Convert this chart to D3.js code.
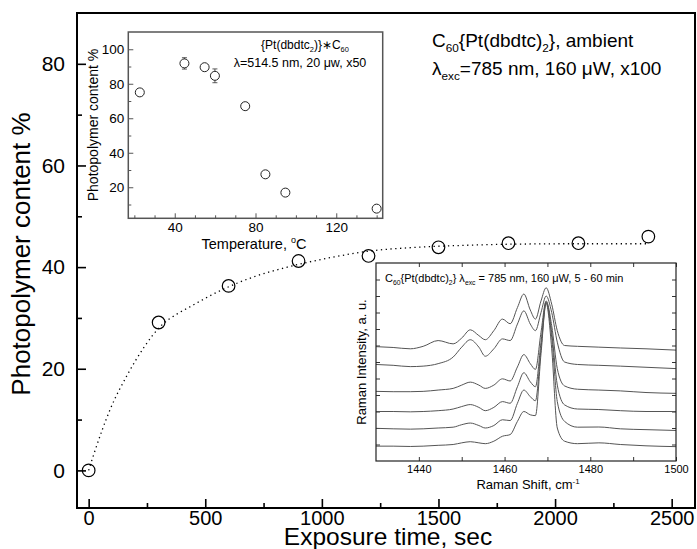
<!DOCTYPE html>
<html><head><meta charset="utf-8">
<script src="https://cdn.jsdelivr.net/npm/d3@7"></script>
<style>
body{margin:0;background:#fff}
svg{display:block}
text{font-family:Arial,"Liberation Sans",Helvetica,sans-serif;fill:#000}
</style></head>
<body><svg id="chart" width="697" height="549"></svg>
<script>
// ---------- main chart data ----------
const exposureTime = [0, 300, 600, 900, 1200, 1500, 1800, 2100, 2400];
const photopolymerContent = [0, 29.1, 36.3, 41.2, 42.2, 43.9, 44.7, 44.7, 46.0];
// dotted fit curve
const fitTime  = [0, 23, 94, 166, 237, 309, 380, 423, 552, 709, 852, 1052, 1195, 1409, 1624, 1800, 2100, 2400];
const fitValue = [0, 3.3, 12.2, 18.8, 24.2, 28.4, 30.8, 31.9, 35.1, 38.1, 40.0, 42.0, 43.1, 43.9, 44.3, 44.5, 44.6, 44.6];
const mainXTicks = [0, 500, 1000, 1500, 2000, 2500];
const mainXMinor = [250, 750, 1250, 1750, 2250];
const mainYTicks = [0, 20, 40, 60, 80];
const mainYMinor = [10, 30, 50, 70];

// ---------- inset 1 (temperature) ----------
const insetTemperature = [22.7, 44.8, 54.8, 59.9, 74.9, 84.9, 94.8, 140];
const insetContent     = [75, 91.8, 89.6, 84.6, 67, 27.5, 16.9, 7.6];
const insetError       = [0, 3.3, 0, 4.0, 0, 0, 0, 0];
const insetXTicks = [40, 80, 120];
const insetXMinor = [20, 30, 50, 60, 70, 90, 100, 110, 130, 140];
const insetYTicks = [20, 40, 60, 80, 100];
const insetYMinor = [10, 30, 50, 70, 90];

// ---------- inset 2 (Raman spectra) ----------
const ramanShift = [1430, 1434, 1438, 1441, 1444.5, 1448, 1450, 1452, 1454, 1455.5, 1457.5, 1459.5, 1461.3, 1463, 1464.5, 1466, 1467.2, 1468.5, 1469.7, 1471, 1472.3, 1474, 1477, 1482, 1487, 1493, 1500];
const ramanTrace1 = [6.93, 6.88, 6.8, 6.95, 7.3, 7.1, 7.45, 7.95, 7.6, 7.35, 7.9, 8.6, 8.32, 9.3, 10.12, 9.15, 8.6, 9.7, 10.5, 9.5, 7.9, 7.0, 6.95, 6.9, 6.85, 6.8, 6.72];
const ramanTrace2 = [5.85, 5.8, 5.72, 5.75, 5.9, 6.3, 6.9, 7.35, 6.9, 6.35, 6.8, 7.4, 7.3, 8.3, 9.1, 8.3, 7.9, 9.0, 10.0, 9.0, 7.2, 6.0, 5.85, 5.8, 5.75, 5.68, 5.6];
const ramanTrace3 = [4.22, 4.2, 4.2, 4.22, 4.3, 4.4, 4.6, 4.78, 4.6, 4.4, 4.6, 4.98, 4.85, 5.7, 6.45, 5.9, 5.55, 7.8, 9.7, 8.2, 5.6, 4.55, 4.35, 4.3, 4.25, 4.15, 4.1];
const ramanTrace4 = [3.0, 3.0, 2.98, 3.0, 3.05, 3.15, 3.3, 3.42, 3.25, 3.05, 3.25, 3.6, 3.5, 4.5, 5.35, 4.8, 4.5, 7.2, 9.65, 7.8, 4.6, 3.4, 3.15, 3.12, 3.05, 3.0, 3.0];
const ramanTrace5 = [1.98, 1.95, 1.93, 1.95, 2.0, 2.05, 2.2, 2.3, 2.15, 2.0, 2.15, 2.5, 2.45, 3.5, 4.3, 3.9, 3.65, 6.8, 9.6, 7.5, 3.6, 2.4, 2.05, 2.06, 1.95, 1.9, 1.85];
const ramanTrace6 = [0.9, 0.9, 0.88, 0.9, 0.95, 1.0, 1.1, 1.17, 1.1, 1.05, 1.2, 1.5, 1.6, 2.4, 3.0, 2.8, 2.75, 6.5, 9.55, 6.8, 2.0, 1.2, 1.05, 1.1, 1.0, 0.92, 0.87];
const ramanTraces = [ramanTrace1, ramanTrace2, ramanTrace3, ramanTrace4, ramanTrace5, ramanTrace6];
const ramanXTicks = [1440, 1460, 1480, 1500];
const ramanXMinor = [1450, 1470, 1490];
const ramanYTicks = [1, 2, 3, 4, 5, 6, 7, 8, 9, 10, 11];

const svg = d3.select('#chart');

function rich(g, x, y, size, parts, anchor) {
  const t = g.append('text').attr('x', x).attr('y', y).attr('font-size', size)
    .attr('text-anchor', anchor || 'start');
  let shift = 0;
  parts.forEach(([s, k]) => {
    const target = k === 'sub' ? size * 0.28 : k === 'sup' ? -size * 0.42 : 0;
    const ts = t.append('tspan').text(s).attr('dy', target - shift);
    if (k) ts.attr('font-size', size * 0.62);
    shift = target;
  });
  return t;
}

// ================= MAIN CHART =================
const M = {l: 77, r: 695, t: 13, b: 508};
const x = d3.scaleLinear().domain([-50, 2600]).range([M.l, M.r]);
const y = d3.scaleLinear().domain([-7.4, 90]).range([M.b, M.t]);

const gx = svg.append('g').attr('transform', `translate(0,${M.b})`)
  .call(d3.axisBottom(x).tickValues(mainXTicks).tickSize(-9).tickPadding(3).tickFormat(d3.format('d')));
svg.append('g').attr('transform', `translate(0,${M.b})`)
  .call(d3.axisBottom(x).tickValues(mainXMinor).tickSize(-5).tickFormat(''));
const gy = svg.append('g').attr('transform', `translate(${M.l},0)`)
  .call(d3.axisLeft(y).tickValues(mainYTicks).tickSize(-9).tickPadding(12));
svg.append('g').attr('transform', `translate(${M.l},0)`)
  .call(d3.axisLeft(y).tickValues(mainYMinor).tickSize(-5).tickFormat(''));
svg.selectAll('.domain').remove();
svg.selectAll('.tick line').attr('stroke', '#000').attr('stroke-width', 1.6);
gx.selectAll('text').attr('font-size', 20).attr('font-family', 'Arial, "Liberation Sans", sans-serif');
gy.selectAll('text').attr('font-size', 21).attr('font-family', 'Arial, "Liberation Sans", sans-serif');

svg.append('rect').attr('x', M.l).attr('y', M.t).attr('width', M.r - M.l).attr('height', M.b - M.t)
  .attr('fill', 'none').attr('stroke', '#000').attr('stroke-width', 2);

// fit curve
const fitLine = d3.line().x((d, i) => x(fitTime[i])).y((d, i) => y(fitValue[i])).curve(d3.curveMonotoneX);
svg.append('path').datum(fitValue).attr('d', fitLine).attr('fill', 'none')
  .attr('stroke', '#000').attr('stroke-width', 1.3).attr('stroke-dasharray', '1.3 3.5');

// points
svg.append('g').selectAll('circle').data(exposureTime).join('circle')
  .attr('cx', d => x(d)).attr('cy', (d, i) => y(photopolymerContent[i])).attr('r', 6.3)
  .attr('fill', 'none').attr('stroke', '#000').attr('stroke-width', 1.2);

// axis titles
svg.append('text').attr('transform', 'translate(30,254) rotate(-90)').attr('text-anchor', 'middle')
  .attr('font-size', 26).text('Photopolymer content %');
svg.append('text').attr('x', 388).attr('y', 545).attr('text-anchor', 'middle')
  .attr('font-size', 24.5).text('Exposure time, sec');

// top-right annotation
rich(svg, 432, 47, 19, [['C'], ['60', 'sub'], ['{Pt(dbdtc)'], ['2', 'sub'], ['}, ambient']]);
rich(svg, 432, 75, 19, [['λ'], ['exc', 'sub'], ['=785 nm, 160 μW, x100']]);

// ================= INSET 1 =================
const I = {l: 128.3, r: 382.7, t: 32, b: 218.3};
const ix = d3.scaleLinear().domain([17, 143]).range([I.l, I.r]);
const iy = d3.scaleLinear().domain([2, 110]).range([I.b, I.t]);
const g1 = svg.append('g');
g1.append('rect').attr('x', I.l).attr('y', I.t).attr('width', I.r - I.l).attr('height', I.b - I.t)
  .attr('fill', '#fff');
const i1x = g1.append('g').attr('transform', `translate(0,${I.b})`)
  .call(d3.axisBottom(ix).tickValues(insetXTicks).tickSize(-5).tickPadding(4));
g1.append('g').attr('transform', `translate(0,${I.b})`)
  .call(d3.axisBottom(ix).tickValues(insetXMinor).tickSize(-3).tickFormat(''));
const i1y = g1.append('g').attr('transform', `translate(${I.l},0)`)
  .call(d3.axisLeft(iy).tickValues(insetYTicks).tickSize(-5).tickPadding(4));
g1.append('g').attr('transform', `translate(${I.l},0)`)
  .call(d3.axisLeft(iy).tickValues(insetYMinor).tickSize(-3).tickFormat(''));
g1.selectAll('.domain').remove();
g1.selectAll('.tick line').attr('stroke', '#555').attr('stroke-width', 1);
g1.selectAll('.tick text').attr('font-size', 13.5).attr('font-family', 'Arial, "Liberation Sans", sans-serif');
g1.append('rect').attr('x', I.l).attr('y', I.t).attr('width', I.r - I.l).attr('height', I.b - I.t)
  .attr('fill', 'none').attr('stroke', '#555').attr('stroke-width', 1.5);

// error bars
const eb = g1.append('g').selectAll('g').data(insetTemperature.map((t, i) => i).filter(i => insetError[i] > 0)).join('g');
eb.append('line').attr('x1', i => ix(insetTemperature[i])).attr('x2', i => ix(insetTemperature[i]))
  .attr('y1', i => iy(insetContent[i] - insetError[i])).attr('y2', i => iy(insetContent[i] + insetError[i]))
  .attr('stroke', '#333').attr('stroke-width', 0.8);
[-1, 1].forEach(s => eb.append('line')
  .attr('x1', i => ix(insetTemperature[i]) - 2.5).attr('x2', i => ix(insetTemperature[i]) + 2.5)
  .attr('y1', i => iy(insetContent[i] + s * insetError[i])).attr('y2', i => iy(insetContent[i] + s * insetError[i]))
  .attr('stroke', '#333').attr('stroke-width', 0.8));
g1.append('g').selectAll('circle').data(insetTemperature).join('circle')
  .attr('cx', d => ix(d)).attr('cy', (d, i) => iy(insetContent[i])).attr('r', 4.5)
  .attr('fill', '#fff').attr('stroke', '#222').attr('stroke-width', 1);

g1.append('text').attr('transform', 'translate(98,125) rotate(-90)').attr('text-anchor', 'middle')
  .attr('font-size', 14).text('Photopolymer content %');
rich(g1, 254, 249, 14.5, [['Temperature, '], ['o', 'sup'], ['C']], 'middle');
rich(g1, 305, 49, 12, [['{Pt(dbdtc'], ['2', 'sub'], [')}∗C'], ['60', 'sub']], 'middle');
rich(g1, 300, 67, 12.5, [['λ=514.5 nm, 20 μw, x50']], 'middle');

// ================= INSET 2 =================
const R = {l: 376, r: 676, t: 263, b: 461};
const rx = d3.scaleLinear().domain([1430, 1500]).range([R.l, R.r]);
const ry = d3.scaleLinear().domain([0, 12]).range([R.b, R.t]);
const g2 = svg.append('g');
g2.append('rect').attr('x', R.l).attr('y', R.t).attr('width', R.r - R.l).attr('height', R.b - R.t)
  .attr('fill', '#fff');
const r2x = g2.append('g').attr('transform', `translate(0,${R.b})`)
  .call(d3.axisBottom(rx).tickValues(ramanXTicks).tickSize(-4).tickPadding(4).tickFormat(d3.format('d')));
g2.append('g').attr('transform', `translate(0,${R.b})`)
  .call(d3.axisBottom(rx).tickValues(ramanXMinor).tickSize(-4).tickFormat(''));
g2.append('g').attr('transform', `translate(0,${R.t})`)
  .call(d3.axisTop(rx).tickValues(ramanXTicks.concat(ramanXMinor)).tickSize(-4).tickFormat(''));
g2.append('g').attr('transform', `translate(${R.l},0)`)
  .call(d3.axisLeft(ry).tickValues(ramanYTicks).tickSize(-4).tickFormat(''));
g2.append('g').attr('transform', `translate(${R.r},0)`)
  .call(d3.axisRight(ry).tickValues(ramanYTicks).tickSize(-4).tickFormat(''));
g2.selectAll('.domain').remove();
g2.selectAll('.tick line').attr('stroke', '#333').attr('stroke-width', 1);
r2x.selectAll('text').attr('font-size', 11).attr('font-family', 'Arial, "Liberation Sans", sans-serif');

const rLine = d3.line().x((d, i) => rx(ramanShift[i])).y(d => ry(d)).curve(d3.curveMonotoneX);
g2.append('g').selectAll('path').data(ramanTraces).join('path')
  .attr('d', rLine).attr('fill', 'none').attr('stroke', '#555').attr('stroke-width', 1);
g2.append('rect').attr('x', R.l).attr('y', R.t).attr('width', R.r - R.l).attr('height', R.b - R.t)
  .attr('fill', 'none').attr('stroke', '#222').attr('stroke-width', 1.2);

rich(g2, 385, 282, 11, [['C'], ['60', 'sub'], ['{Pt(dbdtc)'], ['2', 'sub'], ['} λ'], ['exc', 'sub'], [' = 785 nm, 160 μW, 5 - 60 min']]);
g2.append('text').attr('transform', 'translate(366,362) rotate(-90)').attr('text-anchor', 'middle')
  .attr('font-size', 13).text('Raman Intensity, a. u.');
rich(g2, 528, 489, 13, [['Raman Shift, cm'], ['-1', 'sup']], 'middle');
</script>
</body></html>
